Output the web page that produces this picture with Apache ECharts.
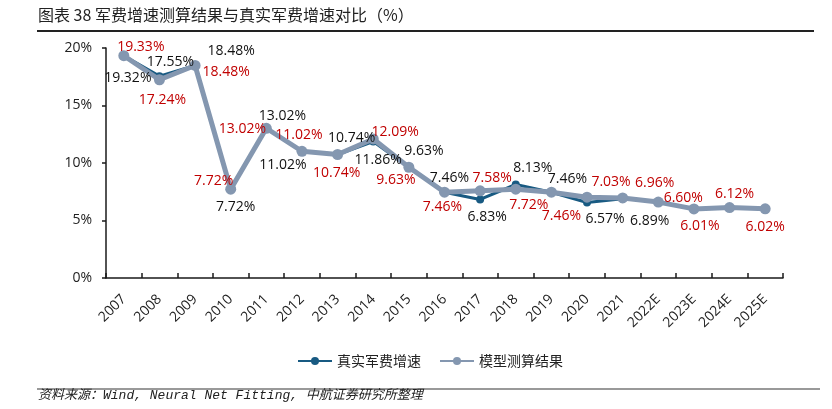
<!DOCTYPE html>
<html>
<head>
<meta charset="utf-8">
<script src="https://cdn.jsdelivr.net/npm/echarts@6/dist/echarts.min.js"></script>
<style>
html,body{margin:0;padding:0;background:#fff;}
#main{width:832px;height:409px;}
</style>
</head>
<body>
<div id="main"></div>
<script>
// ---- data ----
var categories = ['2007','2008','2009','2010','2011','2012','2013','2014','2015','2016','2017','2018','2019','2020','2021','2022E','2023E','2024E','2025E'];
var realGrowth = [19.32,17.55,18.48,7.72,13.02,11.02,10.74,11.86,9.63,7.46,6.83,8.13,7.46,6.57,6.89,null,null,null,null];
var modelResult = [19.33,17.24,18.48,7.72,13.02,11.02,10.74,12.09,9.63,7.46,7.58,7.72,7.46,7.03,6.96,6.60,6.01,6.12,6.02];
var yTicks = [0,5,10,15,20];
var seriesNames = ['真实军费增速','模型测算结果'];

// ---- label placement (offsets of label centre from the point, px) ----
var realLabelOffset = [[4,22],[11,-14],[36,-14],[5,18],[16,-12],[-19,14],[14,-16],[5,18],[15,-16],[5,-14],[7,18],[17,-16],[16,-13],[18,17],[27,22]];
var modelLabelOffset = [[17,-9],[3,20],[31,7],[-17,-8],[-24,1],[-3,-16],[-1,19],[22,-7],[-13,13],[-2,15],[12,-13],[13,16],[10,24],[24,-15],[32,-15],[25,-4],[6,17],[5,-14],[0,18]];

var LABEL_SYM = 2; // symbol size of the label-carrier series

function buildLabelData(values, offsets){
  return values.map(function(v,i){
    if (v === null) return null;
    var off = offsets[i] || [0,0];
    return {
      value: v,
      label: {position: [LABEL_SYM/2 + off[0], LABEL_SYM/2 + off[1]]}
    };
  });
}

var chart = echarts.init(document.getElementById('main'), null, {renderer:'canvas'});
var numFont = '"Open Sans","Noto Sans",sans-serif';

function labelSeries(name, values, offsets, color){
  return {
    name: name,
    type:'line',
    data: buildLabelData(values, offsets),
    symbol:'circle', symbolSize:LABEL_SYM,
    showAllSymbol:true,
    z:10,
    silent:true,
    lineStyle:{opacity:0, width:0},
    itemStyle:{color:'rgba(0,0,0,0)'},
    label:{show:true, align:'center', verticalAlign:'middle', color:color, fontFamily:numFont, fontSize:14,
      formatter:function(p){return p.value.toFixed(2)+'%';}},
    labelLayout:{hideOverlap:false},
    tooltip:{show:false}
  };
}

var option = {
  animation:false,
  backgroundColor:'#fff',
  grid:{left:106, right:49, top:48, bottom:131, containLabel:false},
  legend:{
    left:292, top:349,
    itemWidth:34, itemHeight:10, itemGap:18,
    textStyle:{fontFamily:'"Noto Sans CJK SC",sans-serif', fontSize:14, color:'#222'},
    data:seriesNames
  },
  xAxis:{
    type:'category',
    data:categories,
    boundaryGap:true,
    axisLine:{lineStyle:{color:'#1a1a1a', width:1.5}},
    axisTick:{show:true, inside:true, length:5, lineStyle:{color:'#1a1a1a', width:1.5}},
    axisLabel:{rotate:45, margin:19, color:'#222', fontFamily:numFont, fontSize:14, interval:0}
  },
  yAxis:{
    type:'value',
    min:yTicks[0], max:yTicks[yTicks.length-1], interval:5,
    splitLine:{show:false},
    axisLine:{show:true, lineStyle:{color:'#1a1a1a', width:1.5}},
    axisTick:{show:true, length:4, lineStyle:{color:'#1a1a1a', width:1.5}},
    axisLabel:{formatter:'{value}%', margin:14, color:'#222', fontFamily:numFont, fontSize:14}
  },
  series:[
    {
      name:seriesNames[0],
      type:'line',
      data:realGrowth,
      symbol:'circle', symbolSize:8,
      z:2,
      lineStyle:{color:'#185a82', width:3},
      itemStyle:{color:'#185a82'}
    },
    {
      name:seriesNames[1],
      type:'line',
      data:modelResult,
      symbol:'circle', symbolSize:11,
      z:3,
      lineStyle:{color:'#8497b0', width:5},
      itemStyle:{color:'#8497b0'}
    },
    labelSeries('realLabels', realGrowth, realLabelOffset, '#111'),
    labelSeries('modelLabels', modelResult, modelLabelOffset, '#c00000')
  ],
  graphic:[
    {type:'text', left:38, top:7, style:{text:'图表 38 军费增速测算结果与真实军费增速对比（%）', fontFamily:'"Noto Sans CJK SC",sans-serif', fontSize:16, fill:'#222'}},
    {type:'line', shape:{x1:37, y1:31, x2:814, y2:31}, style:{stroke:'#222', lineWidth:2}},
    {type:'line', shape:{x1:37, y1:389, x2:820, y2:389}, style:{stroke:'#777', lineWidth:1.5}},
    {type:'text', left:38, top:389, style:{text:'资料来源：Wind, Neural Net Fitting, 中航证券研究所整理', fontFamily:'"Liberation Mono","Noto Sans CJK SC",monospace', fontStyle:'italic', fontSize:13, fill:'#222'}}
  ]
};
chart.setOption(option);
</script>
</body>
</html>
